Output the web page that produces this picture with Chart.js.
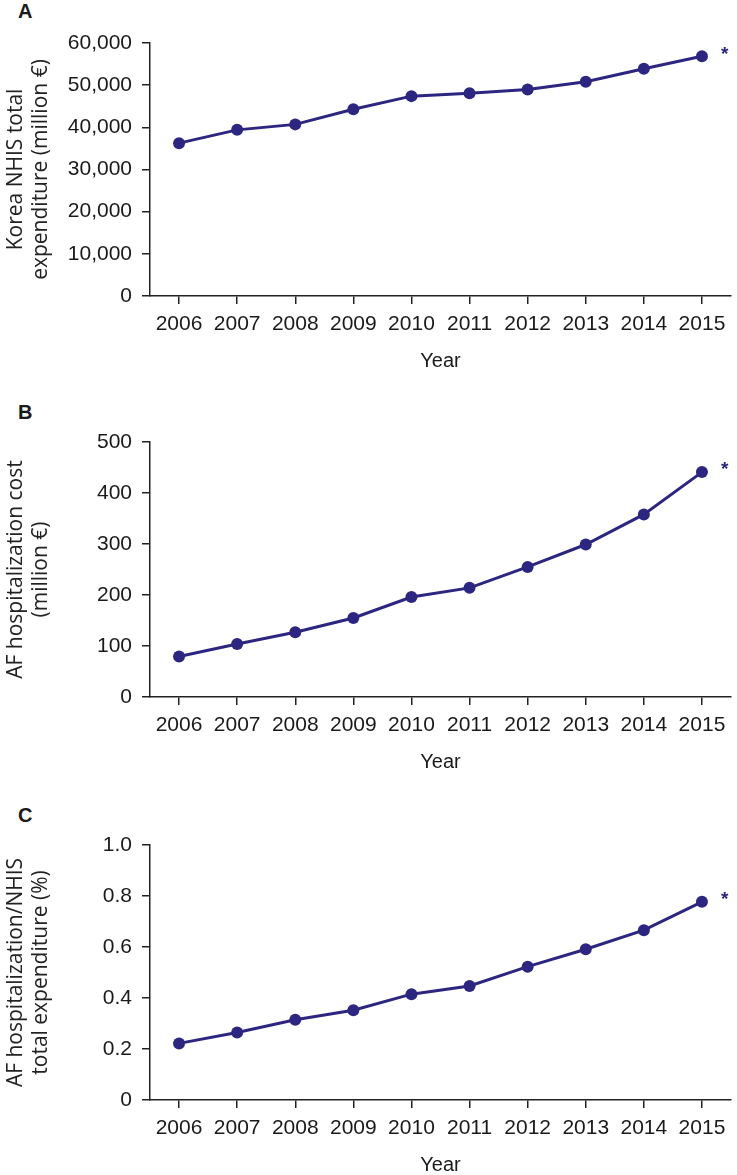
<!DOCTYPE html>
<html>
<head>
<meta charset="utf-8">
<script src="https://cdn.jsdelivr.net/npm/chart.js@4.4.1/dist/chart.umd.min.js"></script>
<style>
body { margin: 0; background: #fff; }
#wrap { position: relative; width: 737px; height: 1175px; overflow: hidden; }
canvas { position: absolute; left: 0; }
.lbl { position: absolute; left: 18px; font: bold 20px 'Liberation Sans', Arial, sans-serif; line-height: 20px; color: #1a1a1a; }
</style>
</head>
<body>
<div id="wrap">
  <div class="lbl" style="top:1px">A</div>
  <canvas id="chartA" width="737" height="400" style="top:0"></canvas>
  <div class="lbl" style="top:402px">B</div>
  <canvas id="chartB" width="737" height="400" style="top:400px"></canvas>
  <div class="lbl" style="top:805px">C</div>
  <canvas id="chartC" width="737" height="400" style="top:800px"></canvas>
</div>
<script>
var years = ['2006', '2007', '2008', '2009', '2010', '2011', '2012', '2013', '2014', '2015'];

// A: Korea NHIS total expenditure (million euro)
var nhisTotal = [36250, 39400, 40700, 44300, 47400, 48100, 49000, 50800, 53900, 56850];
// B: AF hospitalization cost (million euro)
var afCost = [79.5, 104, 127, 155, 196, 214, 255, 299, 358, 441];
// C: AF hospitalization / NHIS total expenditure (%)
var afRatio = [0.222, 0.265, 0.315, 0.352, 0.415, 0.447, 0.523, 0.591, 0.666, 0.777];

var titleA = ['Korea NHIS total', 'expenditure (million €)'];
var titleB = ['AF hospitalization cost', '(million €)'];
var titleC = ['AF hospitalization/NHIS', 'total expenditure (%)'];

var lineColor = '#2c2680';
var axisColor = '#222222';
var tickFont = { family: "'Liberation Sans', Arial, sans-serif", size: 21 };
var yearFont = { family: "'Liberation Sans', Arial, sans-serif", size: 20, lineHeight: 1.2 };

// asterisk next to the last point (2015 is significant)
var starPlugin = {
    id: 'star',
    afterDatasetsDraw: function(chart) {
        var meta = chart.getDatasetMeta(0);
        var pt = meta.data[meta.data.length - 1];
        var ctx = chart.ctx;
        ctx.save();
        ctx.fillStyle = lineColor;
        ctx.font = "bold 19px 'Liberation Sans', Arial, sans-serif";
        ctx.textAlign = 'left';
        ctx.textBaseline = 'middle';
        ctx.fillText('*', pt.x + 19, pt.y - 2);
        ctx.restore();
    }
};

function makeChart(id, data, yTitle, yMax, yStep, padTop, xHeight, fmt) {
    var ctx = document.getElementById(id).getContext('2d');
    return new Chart(ctx, {
        type: 'line',
        data: {
            labels: years,
            datasets: [{
                data: data,
                borderColor: lineColor,
                backgroundColor: lineColor,
                borderWidth: 3,
                pointRadius: 6,
                pointBorderWidth: 0,
                pointBackgroundColor: lineColor,
                tension: 0,
                clip: false
            }]
        },
        options: {
            responsive: false,
            animation: false,
            layout: { padding: { top: padTop, left: 0, right: 0, bottom: 0 } },
            plugins: { legend: { display: false }, tooltip: { enabled: false } },
            scales: {
                x: {
                    offset: true,
                    grid: { display: true, drawOnChartArea: false, drawTicks: true, tickLength: 8, offset: false, color: axisColor, lineWidth: 1.5 },
                    border: { display: true, color: axisColor, width: 1.5 },
                    ticks: { color: '#1a1a1a', font: tickFont, padding: 7.5, maxRotation: 0, autoSkip: false },
                    title: { display: true, text: 'Year', color: '#1a1a1a', font: yearFont, padding: { top: 0, bottom: xHeight - 77.5 } },
                    afterFit: function(s) { s.height = xHeight; }
                },
                y: {
                    min: 0,
                    max: yMax,
                    grid: { display: true, drawOnChartArea: false, drawTicks: true, tickLength: 8, color: axisColor, lineWidth: 1.5 },
                    border: { display: true, color: axisColor, width: 1.5 },
                    ticks: { stepSize: yStep, color: '#1a1a1a', font: tickFont, padding: 10, callback: fmt },
                    title: { display: true, text: yTitle, color: '#222', font: { family: "'Open Sans', sans-serif", size: 21, lineHeight: 1.2 }, padding: { top: 3.5, bottom: 0 } },
                    afterFit: function(s) { s.width = 150; }
                }
            }
        },
        plugins: [starPlugin]
    });
}

makeChart('chartA', nhisTotal, titleA, 60000, 10000, 43, 104, function(v) { return v.toLocaleString('en-US'); });
makeChart('chartB', afCost, titleB, 500, 100, 42, 103, function(v) { return v; });
makeChart('chartC', afRatio, titleC, 1.0, 0.2, 45, 100, function(v) { return v === 0 ? '0' : v.toFixed(1); });
</script>
</body>
</html>
